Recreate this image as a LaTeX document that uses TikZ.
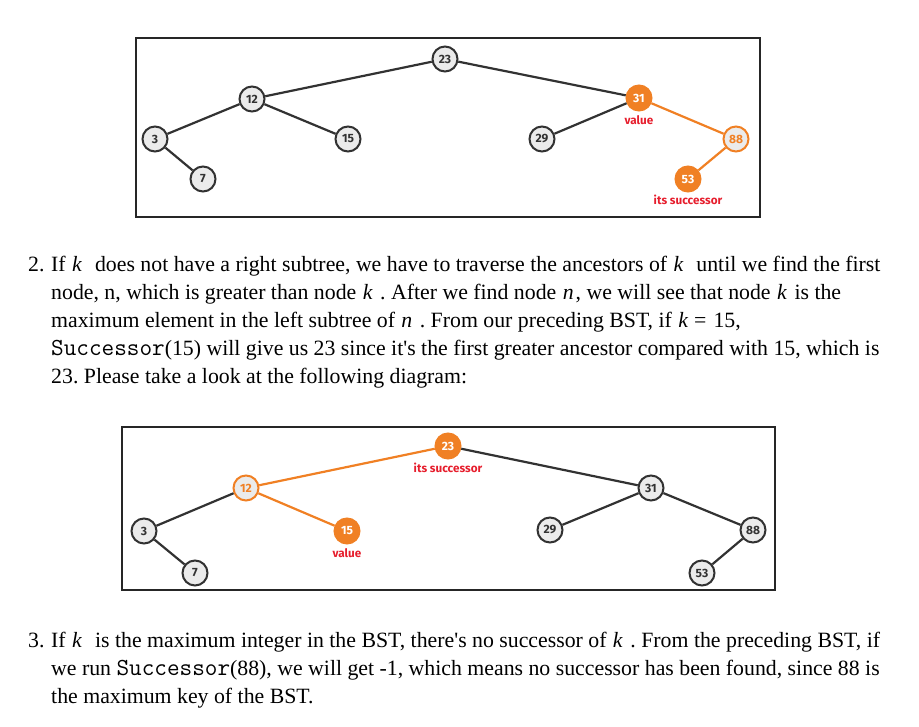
\documentclass[tikz,border=0pt]{standalone}
\usepackage{fontspec}
\setmainfont{Liberation Serif}[Ligatures=TeXOff]
\newfontfamily\nodefont{Fira Sans}
\definecolor{orng}{RGB}{240,128,36}
\definecolor{edgec}{RGB}{50,50,50}
\definecolor{nfill}{RGB}{235,235,235}
\definecolor{lblred}{RGB}{230,30,45}
\tikzset{
  bst/.style={circle, draw=edgec, fill=nfill, line width=2pt, minimum size=25pt, inner sep=0pt,
    font=\nodefont\bfseries\fontsize{12}{12}\selectfont, text=edgec},
  hiring/.style={bst, draw=orng, text=orng},
  hifill/.style={bst, draw=orng, fill=orng, text=white},
  edge/.style={line width=2.2pt, draw=edgec},
  hiedge/.style={line width=2.2pt, draw=orng},
  lbl/.style={font=\nodefont\bfseries\fontsize{11.7}{11.7}\selectfont, text=lblred, inner sep=0pt},
  frame/.style={draw=black!85, line width=2pt},
  txt/.style={anchor=base west, inner sep=0pt, font=\fontsize{21.8}{28}\selectfont},
}
\newcommand{\kv}{\hspace{1pt}\textit{k}\hspace{2pt}}
\newcommand{\nv}{\hspace{1pt}\textit{n}\hspace{2pt}}
\newcommand{\cw}[1]{{\fontsize{24.5}{28}\selectfont\ttfamily #1}}
\frenchspacing
\begin{document}
\begin{tikzpicture}[x=1pt,y=-1pt]
\useasboundingbox (0,0) rectangle (919,727);
% ---- top diagram ----
\draw[frame] (136,38) rectangle (760,217);
\node[bst] (a23) at (445,59) {23};
\node[bst] (a12) at (252,99) {12};
\node[bst] (a3) at (155,139) {3};
\node[bst] (a15) at (348,139) {15};
\node[bst] (a7) at (203,179) {7};
\node[hifill] (a31) at (639,98) {31};
\node[bst] (a29) at (542,139) {29};
\node[hiring] (a88) at (736,139) {88};
\node[hifill] (a53) at (688,179) {53};
\node[lbl] (av) at (639,120) {value};
\node[lbl] (as) at (688,200) {its successor};
\draw[edge] (a23) -- (a12);
\draw[edge] (a12) -- (a3);
\draw[edge] (a12) -- (a15);
\draw[edge] (a3) -- (a7);
\draw[edge] (a23) -- (a31);
\draw[edge] (a31) -- (a29);
\draw[hiedge] (a31) -- (a88);
\draw[hiedge] (a88) -- (a53);
% ---- bottom diagram ----
\draw[frame] (122,427) rectangle (775,590);
\node[hifill] (b23) at (448,446) {23};
\node[hiring] (b12) at (246,488) {12};
\node[bst] (b3) at (144,531) {3};
\node[hifill] (b15) at (347,531) {15};
\node[bst] (b7) at (195,573) {7};
\node[bst] (b31) at (651,488) {31};
\node[bst] (b29) at (550,530) {29};
\node[bst] (b88) at (753,530) {88};
\node[bst] (b53) at (702,573) {53};
\node[lbl] (bs) at (448,468) {its successor};
\node[lbl] (bv) at (347,553) {value};
\draw[hiedge] (b23) -- (b12);
\draw[edge] (b12) -- (b3);
\draw[hiedge] (b12) -- (b15);
\draw[edge] (b3) -- (b7);
\draw[edge] (b23) -- (b31);
\draw[edge] (b31) -- (b29);
\draw[edge] (b31) -- (b88);
\draw[edge] (b88) -- (b53);
% ---- text ----
\node[txt] (n2) at (28,272) {2.};
\node[txt] (l1) at (51,272) {If \kv\ \ does not have a right subtree, we have to traverse the ancestors of \kv\ \ until we find the first};
\node[txt] (l2) at (51,300) {node, n, which is greater than node \kv\ . After we find node \nv, we will see that node \kv\ is the};
\node[txt] (l3) at (51,328) {maximum element in the left subtree of \nv\ . From our preceding BST, if \kv\,=\,\,15,};
\node[txt] (l4) at (51,356) {\cw{Successor}(15) will give us 23 since it's the first greater ancestor compared with 15, which is};
\node[txt] (l5) at (51,384) {23. Please take a look at the following diagram:};
\node[txt] (n3) at (28,647) {3.};
\node[txt] (m1) at (51,647) {If \kv\ \ is the maximum integer in the BST, there's no successor of \kv\ . From the preceding BST, if};
\node[txt] (m2) at (51,675) {we run \cw{Successor}(88), we will get -1, which means no successor has been found, since 88 is};
\node[txt] (m3) at (51,703) {the maximum key of the BST.};
\end{tikzpicture}
\end{document}
